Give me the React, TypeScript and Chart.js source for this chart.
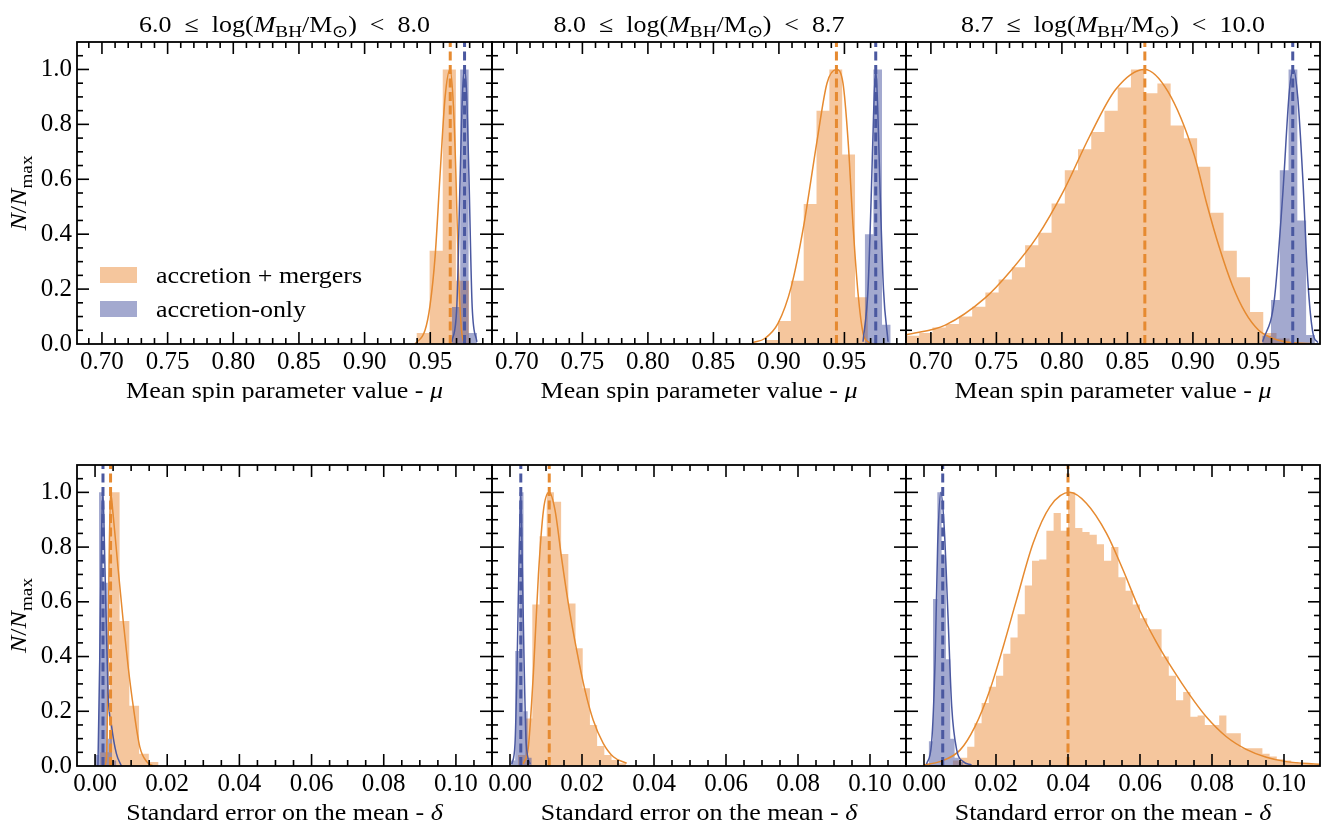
import React, { useEffect, useRef } from "react";
import { Chart, registerables } from "chart.js";

Chart.register(...registerables);

// ---------------- text / labels ----------------
const massEdges = ["6.0", "8.0", "8.7", "10.0"];
const seriesLabels = ["accretion + mergers", "accretion-only"];
const muAxisText = "Mean spin parameter value - ";
const muSymbol = "μ";
const deltaAxisText = "Standard error on the mean - ";
const deltaSymbol = "δ";

// ---------------- axis ranges / ticks ----------------
const muRange = [0.681, 0.997];
const deltaRange = [-0.005, 0.11];
const yRange = [0, 1.1];
const muTickStep = 0.05;
const muMinorStep = 0.01;
const deltaTickStep = 0.02;
const deltaMinorStep = 0.005;
const yTickStep = 0.2;
const yMinorStep = 0.05;

// ---------------- data: top row (mean spin mu) ----------------
// 6.0 <= log M < 8.0
const muA_mergBinStart = 0.9395;
const muA_mergBinWidth = 0.01;
const muA_mergCounts = [0.04, 0.34, 1.0, 0.23];
const muA_accBinStart = 0.9664;
const muA_accBinWidth = 0.0064;
const muA_accCounts = [0.135, 1.0, 0.04];
const muA_mergFitX = [0.9384, 0.946, 0.9498, 0.9537, 0.9575, 0.9613, 0.9651, 0.9677, 0.9695, 0.9715, 0.974, 0.9766];
const muA_mergFitY = [0.0, 0.05, 0.14, 0.32, 0.62, 0.9, 1.0, 0.86, 0.62, 0.26, 0.04, 0.0];
const muA_accFitX = [0.9664, 0.9702, 0.9728, 0.9746, 0.9761, 0.9776, 0.9794, 0.9819, 0.9855];
const muA_accFitY = [0.008, 0.136, 0.62, 0.92, 1.0, 0.92, 0.62, 0.136, 0.008];
const muA_mergMean = 0.9652;
const muA_accMean = 0.9761;

// 8.0 <= log M < 8.7
const muB_mergBinStart = 0.8895;
const muB_mergBinWidth = 0.0098;
const muB_mergCounts = [0.015, 0.084, 0.23, 0.51, 0.85, 1.0, 0.69, 0.17];
const muB_accBinStart = 0.9655;
const muB_accBinWidth = 0.0066;
const muB_accCounts = [0.4, 1.0, 0.07];
const muB_mergFitX = [0.8802, 0.8892, 0.8993, 0.9095, 0.9189, 0.9291, 0.9367, 0.9439, 0.9489, 0.9528, 0.9566, 0.9604, 0.9642, 0.968, 0.9718];
const muB_mergFitY = [0.005, 0.02, 0.075, 0.21, 0.43, 0.74, 0.95, 1.0, 0.95, 0.74, 0.43, 0.185, 0.04, 0.008, 0.0];
const muB_accFitX = [0.9642, 0.968, 0.9706, 0.9724, 0.9739, 0.9754, 0.9772, 0.9798, 0.9833];
const muB_accFitY = [0.008, 0.2, 0.56, 0.86, 1.0, 0.86, 0.56, 0.2, 0.008];
const muB_mergMean = 0.9439;
const muB_accMean = 0.9739;

// 8.7 <= log M < 10.0
const muC_mergBinStart = 0.681;
const muC_mergBinWidth = 0.0101;
const muC_mergCounts = [
  0.03, 0.04, 0.06, 0.073, 0.1, 0.136, 0.188, 0.235, 0.28, 0.36, 0.405, 0.512, 0.633, 0.709, 0.772,
  0.85, 0.934, 1.0, 0.913, 0.949, 0.796, 0.749, 0.646, 0.478, 0.34, 0.243, 0.117, 0.04, 0.02,
];
const muC_accBinStart = 0.9529;
const muC_accBinWidth = 0.0067;
const muC_accCounts = [0.03, 0.16, 0.633, 1.0, 0.45, 0.033];
const muC_mergFitX = [0.6808, 0.711, 0.741, 0.761, 0.781, 0.801, 0.821, 0.841, 0.863, 0.881, 0.901, 0.9105, 0.92, 0.93, 0.94, 0.95, 0.9596, 0.97, 0.99];
const muC_mergFitY = [0.033, 0.069, 0.166, 0.267, 0.39, 0.555, 0.755, 0.927, 1.0, 0.919, 0.688, 0.512, 0.354, 0.215, 0.114, 0.051, 0.023, 0.008, 0.002];
const muC_accFitX = [0.9532, 0.9621, 0.9685, 0.9737, 0.9767, 0.98, 0.9839, 0.9877, 0.9916, 0.9954];
const muC_accFitY = [0.008, 0.16, 0.54, 0.925, 1.0, 0.9, 0.6, 0.23, 0.04, 0.005];
const muC_mergMean = 0.8633;
const muC_accMean = 0.9762;

// ---------------- data: bottom row (standard error delta) ----------------
const dA_mergBinStart = 0.0014;
const dA_mergBinWidth = 0.0027;
const dA_mergCounts = [0.05, 1.0, 0.53, 0.22, 0.045, 0.015];
const dA_accBinStart = -0.0001;
const dA_accBinWidth = 0.0012;
const dA_accCounts = [0.04, 1.0, 0.67, 0.1, 0.02];
const dA_mergFitX = [0.0026, 0.0032, 0.0036, 0.0039, 0.0043, 0.005, 0.0064, 0.0078, 0.0092, 0.0106, 0.0124, 0.0143, 0.0161];
const dA_mergFitY = [0.0, 0.034, 0.39, 0.75, 1.0, 0.92, 0.72, 0.53, 0.36, 0.217, 0.07, 0.016, 0.0];
const dA_accFitX = [0.0008, 0.0013, 0.0018, 0.0022, 0.0027, 0.0036, 0.0046, 0.0059, 0.0073];
const dA_accFitY = [0.0, 0.39, 0.85, 1.0, 0.75, 0.27, 0.144, 0.046, 0.0];
const dA_mergMean = 0.0043;
const dA_accMean = 0.0022;

const dB_mergBinStart = 0.0022;
const dB_mergBinWidth = 0.002;
const dB_mergCounts = [0.04, 0.174, 0.59, 0.84, 1.0, 0.966, 0.775, 0.594, 0.43, 0.284, 0.15, 0.073, 0.04, 0.022, 0.01];
const dB_accBinStart = 0.0003;
const dB_accBinWidth = 0.00115;
const dB_accCounts = [0.02, 0.42, 1.0, 0.2, 0.03];
const dB_mergFitX = [0.0037, 0.0051, 0.0065, 0.0079, 0.0093, 0.0109, 0.0125, 0.0144, 0.0162, 0.0185, 0.0208, 0.0231, 0.0259, 0.0287, 0.0324];
const dB_mergFitY = [0.007, 0.07, 0.34, 0.7, 0.935, 1.0, 0.935, 0.753, 0.594, 0.424, 0.278, 0.168, 0.083, 0.034, 0.01];
const dB_accFitX = [0.0005, 0.0014, 0.002, 0.0025, 0.003, 0.0034, 0.0039, 0.0045, 0.0056];
const dB_accFitY = [0.007, 0.083, 0.39, 0.75, 1.0, 0.75, 0.39, 0.083, 0.007];
const dB_mergMean = 0.0109;
const dB_accMean = 0.003;

const dC_mergBinStart = 0.008;
const dC_mergBinWidth = 0.002;
const dC_mergCounts = [
  0.02, 0.03, 0.07, 0.156, 0.23, 0.29, 0.33, 0.41, 0.47, 0.555,
  0.66, 0.75, 0.755, 0.86, 0.925, 0.86, 1.0, 0.87, 0.855, 0.845,
  0.81, 0.75, 0.8, 0.69, 0.64, 0.59, 0.54, 0.5, 0.5, 0.4,
  0.33, 0.24, 0.27, 0.18, 0.185, 0.15, 0.15, 0.185, 0.12, 0.12,
  0.065, 0.065, 0.065, 0.045, 0.035, 0.025, 0.02, 0.015, 0.01, 0.008, 0.005,
];
const dC_accBinStart = 0.0013;
const dC_accBinWidth = 0.0012;
const dC_accCounts = [0.09, 0.61, 1.0, 0.77, 0.39, 0.1, 0.03, 0.015, 0.005];
const dC_mergFitX = [0.0, 0.0044, 0.01, 0.01415, 0.0183, 0.022, 0.0257, 0.0303, 0.035, 0.0405, 0.0451, 0.0507, 0.0553, 0.0599, 0.0645, 0.0692, 0.0738, 0.0784, 0.084, 0.0895, 0.0951, 0.1006, 0.1098];
const dC_mergFitY = [0.004, 0.016, 0.058, 0.144, 0.278, 0.436, 0.607, 0.814, 0.948, 1.0, 0.96, 0.85, 0.716, 0.57, 0.454, 0.351, 0.26, 0.18, 0.107, 0.061, 0.032, 0.016, 0.006];
const dC_accFitX = [0.0007, 0.0021, 0.0031, 0.0038, 0.0047, 0.0056, 0.0066, 0.0077, 0.0091, 0.0109, 0.0132];
const dC_accFitY = [0.007, 0.083, 0.39, 0.81, 1.0, 0.875, 0.57, 0.217, 0.058, 0.016, 0.004];
const dC_mergMean = 0.04;
const dC_accMean = 0.0052;

// ---------------- styles ----------------
const FONT = '"Liberation Serif", "Times New Roman", serif';
const FS = 23;
const TICK_FS = 25;
const TEXT_STRETCH = 1.13;
const ORANGE_FILL = "rgba(235,142,60,0.5)";
const BLUE_FILL = "rgba(72,84,160,0.5)";
const ORANGE_LINE = "#E68A30";
const BLUE_LINE = "#4A58A0";

const COL_LEFT = [77, 492, 906];
const COL_W = [415, 414, 414];
const ROW_TOP = [42, 465];
const ROW_H = [302, 301];
const PAD_L = 77;
const PAD_R = 8;
const PAD_T = 42;
const PAD_B = 58;

type Seg = { t: string; it?: boolean; sub?: boolean };

type PanelSpec = {
  row: number;
  col: number;
  mergStart: number; mergWidth: number; mergCounts: number[];
  accStart: number; accWidth: number; accCounts: number[];
  mergFitX: number[]; mergFitY: number[];
  accFitX: number[]; accFitY: number[];
  mergMean: number; accMean: number;
};

const panels: PanelSpec[] = [
  { row: 0, col: 0, mergStart: muA_mergBinStart, mergWidth: muA_mergBinWidth, mergCounts: muA_mergCounts, accStart: muA_accBinStart, accWidth: muA_accBinWidth, accCounts: muA_accCounts, mergFitX: muA_mergFitX, mergFitY: muA_mergFitY, accFitX: muA_accFitX, accFitY: muA_accFitY, mergMean: muA_mergMean, accMean: muA_accMean },
  { row: 0, col: 1, mergStart: muB_mergBinStart, mergWidth: muB_mergBinWidth, mergCounts: muB_mergCounts, accStart: muB_accBinStart, accWidth: muB_accBinWidth, accCounts: muB_accCounts, mergFitX: muB_mergFitX, mergFitY: muB_mergFitY, accFitX: muB_accFitX, accFitY: muB_accFitY, mergMean: muB_mergMean, accMean: muB_accMean },
  { row: 0, col: 2, mergStart: muC_mergBinStart, mergWidth: muC_mergBinWidth, mergCounts: muC_mergCounts, accStart: muC_accBinStart, accWidth: muC_accBinWidth, accCounts: muC_accCounts, mergFitX: muC_mergFitX, mergFitY: muC_mergFitY, accFitX: muC_accFitX, accFitY: muC_accFitY, mergMean: muC_mergMean, accMean: muC_accMean },
  { row: 1, col: 0, mergStart: dA_mergBinStart, mergWidth: dA_mergBinWidth, mergCounts: dA_mergCounts, accStart: dA_accBinStart, accWidth: dA_accBinWidth, accCounts: dA_accCounts, mergFitX: dA_mergFitX, mergFitY: dA_mergFitY, accFitX: dA_accFitX, accFitY: dA_accFitY, mergMean: dA_mergMean, accMean: dA_accMean },
  { row: 1, col: 1, mergStart: dB_mergBinStart, mergWidth: dB_mergBinWidth, mergCounts: dB_mergCounts, accStart: dB_accBinStart, accWidth: dB_accBinWidth, accCounts: dB_accCounts, mergFitX: dB_mergFitX, mergFitY: dB_mergFitY, accFitX: dB_accFitX, accFitY: dB_accFitY, mergMean: dB_mergMean, accMean: dB_accMean },
  { row: 1, col: 2, mergStart: dC_mergBinStart, mergWidth: dC_mergBinWidth, mergCounts: dC_mergCounts, accStart: dC_accBinStart, accWidth: dC_accBinWidth, accCounts: dC_accCounts, mergFitX: dC_mergFitX, mergFitY: dC_mergFitY, accFitX: dC_accFitX, accFitY: dC_accFitY, mergMean: dC_mergMean, accMean: dC_accMean },
];

function histPoints(start: number, width: number, counts: number[]) {
  const pts = counts.map((c, i) => ({ x: start + i * width, y: c }));
  pts.push({ x: start + counts.length * width, y: 0 });
  return pts;
}

function fitPoints(xs: number[], ys: number[]) {
  return xs.map((x, i) => ({ x, y: ys[i] }));
}

function drawRich(ctx: CanvasRenderingContext2D, segs: Seg[], x: number, y: number, align: "center" | "left", rot = 0) {
  ctx.save();
  ctx.translate(x, y);
  if (rot) ctx.rotate(rot);
  ctx.scale(TEXT_STRETCH, 1);
  const fontOf = (s: Seg) => `${s.it ? "italic " : ""}${s.sub ? Math.round(FS * 0.72) : FS}px ${FONT}`;
  let w = 0;
  for (const s of segs) {
    ctx.font = fontOf(s);
    w += ctx.measureText(s.t).width;
  }
  let cx = align === "center" ? -w / 2 : 0;
  ctx.fillStyle = "#000";
  ctx.textBaseline = "alphabetic";
  ctx.textAlign = "left";
  for (const s of segs) {
    ctx.font = fontOf(s);
    ctx.fillText(s.t, cx, s.sub ? FS * 0.24 : 0);
    cx += ctx.measureText(s.t).width;
  }
  ctx.restore();
}

function makeDecor(p: PanelSpec) {
  const isMu = p.row === 0;
  const xMinor = isMu ? muMinorStep : deltaMinorStep;
  return {
    id: "decor",
    afterDraw(chart: any) {
      const ctx: CanvasRenderingContext2D = chart.ctx;
      const a = chart.chartArea;
      const xs = chart.scales.x;
      const ys = chart.scales.y;
      ctx.save();
      ctx.strokeStyle = "#000";
      ctx.lineWidth = 1.6;
      const line = (x1: number, y1: number, x2: number, y2: number) => {
        ctx.beginPath();
        ctx.moveTo(x1, y1);
        ctx.lineTo(x2, y2);
        ctx.stroke();
      };
      const MAJ = 12;
      const MIN = 6;
      const xMaj: number[] = xs.ticks.map((t: any) => t.value);
      const yMaj: number[] = ys.ticks.map((t: any) => t.value);
      const drawX = (v: number, len: number) => {
        const px = xs.getPixelForValue(v);
        if (px < a.left + 1 || px > a.right - 1) return;
        line(px, a.bottom, px, a.bottom - len);
        line(px, a.top, px, a.top + len);
      };
      const drawY = (v: number, len: number) => {
        const py = ys.getPixelForValue(v);
        if (py < a.top + 1 || py > a.bottom - 1) return;
        line(a.left, py, a.left + len, py);
        line(a.right, py, a.right - len, py);
      };
      xMaj.forEach((v) => drawX(v, MAJ));
      yMaj.forEach((v) => drawY(v, MAJ));
      for (let k = Math.ceil(xs.min / xMinor - 1e-9); k * xMinor <= xs.max + 1e-12; k++) {
        const v = k * xMinor;
        if (xMaj.some((m) => Math.abs(m - v) < xMinor / 10)) continue;
        drawX(v, MIN);
      }
      for (let k = Math.ceil(ys.min / yMinorStep - 1e-9); k * yMinorStep <= ys.max + 1e-12; k++) {
        const v = k * yMinorStep;
        if (yMaj.some((m) => Math.abs(m - v) < yMinorStep / 10)) continue;
        drawY(v, MIN);
      }
      ctx.lineWidth = 1.8;
      ctx.strokeRect(a.left, a.top, a.right - a.left, a.bottom - a.top);

      // title (top row)
      if (p.row === 0) {
        drawRich(ctx, [
          { t: `${massEdges[p.col]}\u2002≤\u2002log(` },
          { t: "M", it: true },
          { t: "BH", sub: true },
          { t: "/M" },
          { t: "⊙", sub: true },
          { t: `)\u2002<\u2002${massEdges[p.col + 1]}` },
        ], (a.left + a.right) / 2, a.top - 10.5, "center");
      }
      // x title
      drawRich(ctx, isMu ? [{ t: muAxisText }, { t: muSymbol, it: true }] : [{ t: deltaAxisText }, { t: deltaSymbol, it: true }],
        (a.left + a.right) / 2, a.bottom + 54, "center");
      // y title
      if (p.col === 0) {
        drawRich(ctx, [{ t: "N", it: true }, { t: "/" }, { t: "N", it: true }, { t: "max", sub: true }],
          a.left - 51, (a.top + a.bottom) / 2, "center", -Math.PI / 2);
      }
      // legend
      if (p.row === 0 && p.col === 0) {
        const lx = a.left + 23;
        ctx.fillStyle = ORANGE_FILL;
        ctx.fillRect(lx, a.top + 225, 37, 16);
        ctx.fillStyle = BLUE_FILL;
        ctx.fillRect(lx, a.top + 259, 37, 16);
        drawRich(ctx, [{ t: seriesLabels[0] }], a.left + 79, a.top + 241, "left");
        drawRich(ctx, [{ t: seriesLabels[1] }], a.left + 79, a.top + 275, "left");
      }
      ctx.restore();
    },
  };
}

function Panel({ p }: { p: PanelSpec }) {
  const ref = useRef<HTMLCanvasElement>(null);
  const W = PAD_L + COL_W[p.col] + PAD_R;
  const H = PAD_T + ROW_H[p.row] + PAD_B;
  const left = COL_LEFT[p.col] - PAD_L;
  const top = ROW_TOP[p.row] - PAD_T;

  useEffect(() => {
    const isMu = p.row === 0;
    const xr = isMu ? muRange : deltaRange;
    const common = { pointRadius: 0, pointHoverRadius: 0 };
    const chart = new Chart(ref.current as HTMLCanvasElement, {
      type: "line",
      data: {
        datasets: [
          { ...common, label: "acc mean", data: [{ x: p.accMean, y: yRange[0] }, { x: p.accMean, y: yRange[1] }], borderColor: BLUE_LINE, borderWidth: 3, borderDash: [9, 4.5], fill: false, order: 1 },
          { ...common, label: "merg mean", data: [{ x: p.mergMean, y: yRange[0] }, { x: p.mergMean, y: yRange[1] }], borderColor: ORANGE_LINE, borderWidth: 3, borderDash: [9, 4.5], fill: false, order: 2 },
          { ...common, label: "acc fit", data: fitPoints(p.accFitX, p.accFitY), borderColor: BLUE_LINE, borderWidth: 1.5, cubicInterpolationMode: "monotone", fill: false, order: 3 },
          { ...common, label: "merg fit", data: fitPoints(p.mergFitX, p.mergFitY), borderColor: ORANGE_LINE, borderWidth: 1.5, cubicInterpolationMode: "monotone", fill: false, order: 4 },
          { ...common, label: seriesLabels[1], data: histPoints(p.accStart, p.accWidth, p.accCounts), stepped: true, fill: "origin", backgroundColor: BLUE_FILL, borderColor: "rgba(0,0,0,0)", borderWidth: 0, order: 5 },
          { ...common, label: seriesLabels[0], data: histPoints(p.mergStart, p.mergWidth, p.mergCounts), stepped: true, fill: "origin", backgroundColor: ORANGE_FILL, borderColor: "rgba(0,0,0,0)", borderWidth: 0, order: 6 },
        ] as any,
      },
      options: {
        responsive: false,
        animation: false,
        devicePixelRatio: 1,
        events: [],
        layout: { padding: { top: PAD_T, right: PAD_R, left: 0, bottom: 0 } },
        plugins: { legend: { display: false }, tooltip: { enabled: false }, title: { display: false } },
        scales: {
          x: {
            type: "linear",
            min: xr[0],
            max: xr[1],
            grid: { display: false, drawTicks: false },
            border: { display: false },
            ticks: {
              stepSize: isMu ? muTickStep : deltaTickStep,
              includeBounds: false,
              autoSkip: false,
              maxRotation: 0,
              padding: 3,
              color: "#000",
              font: { family: FONT, size: TICK_FS },
              callback: (v: any) => Number(v).toFixed(2),
            },
            afterFit: (s: any) => { s.height = PAD_B; },
          },
          y: {
            type: "linear",
            min: yRange[0],
            max: yRange[1],
            grid: { display: false, drawTicks: false },
            border: { display: false },
            ticks: {
              display: p.col === 0,
              stepSize: yTickStep,
              includeBounds: false,
              autoSkip: false,
              padding: 5,
              color: "#000",
              font: { family: FONT, size: TICK_FS },
              callback: (v: any) => Number(v).toFixed(1),
            },
            afterFit: (s: any) => { s.width = PAD_L; },
          },
        },
      } as any,
      plugins: [makeDecor(p)],
    });
    return () => chart.destroy();
  }, []);

  return (
    <canvas
      ref={ref}
      width={W}
      height={H}
      style={{ position: "absolute", left, top, width: W, height: H }}
    />
  );
}

export default function App() {
  return (
    <div style={{ position: "absolute", left: 0, top: 0, width: 1328, height: 825, background: "#fff", overflow: "hidden" }}>
      {panels.map((p, i) => (
        <Panel key={i} p={p} />
      ))}
    </div>
  );
}
